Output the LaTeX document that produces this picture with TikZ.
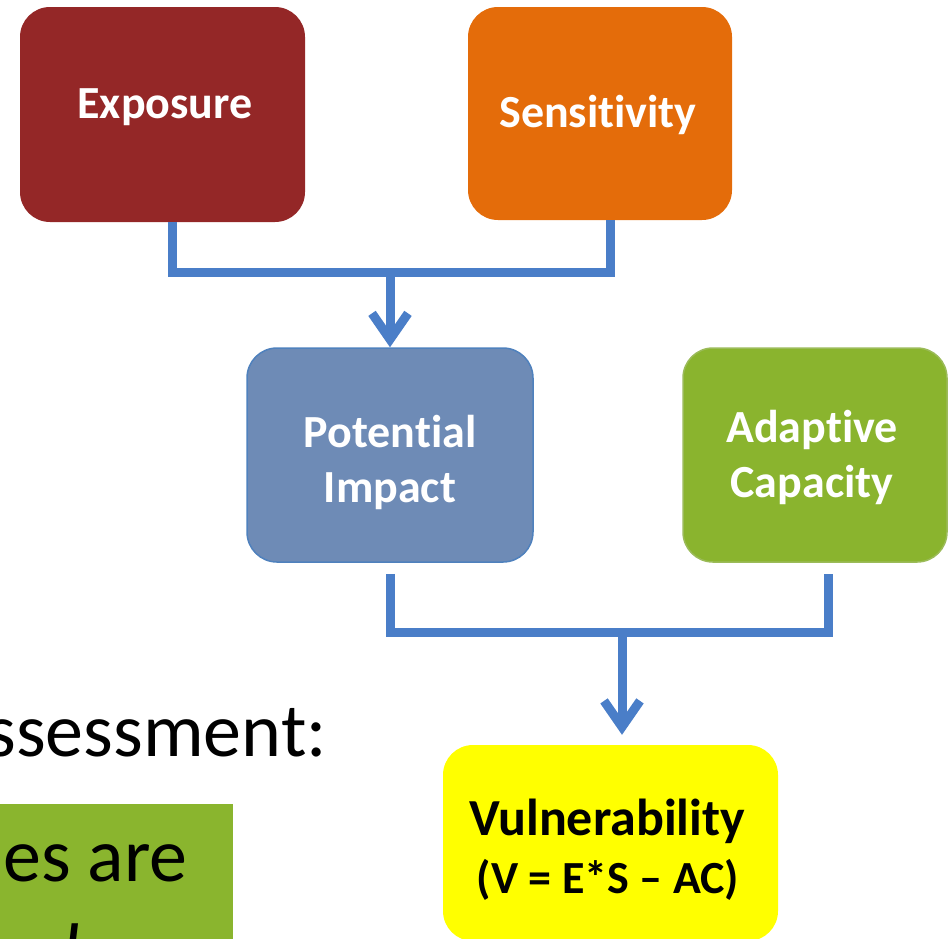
\documentclass[tikz,border=0pt]{standalone}
\usepackage{fontspec}
\setmainfont{Carlito}[Ligatures=NoCommon]
\usetikzlibrary{arrows.meta}
\definecolor{expored}{HTML}{942727}
\definecolor{sensorange}{HTML}{E46C0A}
\definecolor{potblue}{HTML}{6E8BB6}
\definecolor{potedge}{HTML}{4F81BD}
\definecolor{adapgreen}{HTML}{8AB42E}
\definecolor{adapedge}{HTML}{9BBB59}
\definecolor{vulyellow}{HTML}{FFFF00}
\definecolor{linkblue}{HTML}{4A7EC8}
\definecolor{notegreen}{HTML}{8AB52E}
\begin{document}
\begin{tikzpicture}[x=1pt,y=-1pt,
  box/.style={rounded corners=30pt,inner sep=0pt},
  boxtext/.style={anchor=base,align=center,text=white,inner sep=0pt,
    font=\fontsize{46}{55}\selectfont\bfseries},
  link/.style={draw=linkblue,line width=9pt},
  arrow/.style={link,-{Straight Barb[length=26pt,width=36pt]}},
  bigtext/.style={inner sep=0pt,font=\fontsize{76}{91}\selectfont}]
\path[use as bounding box] (0,0) rectangle (949,938);
\clip (0,0) rectangle (949,938);
% boxes
\node[box,fill=expored,minimum width=285pt,minimum height=215pt] (expo) at (162.5,114.5) {};
\node[boxtext] (expotxt) at (165,118) {Exposure};
\node[box,fill=sensorange,minimum width=264pt,minimum height=213pt] (sens) at (600,113.5) {};
\node[boxtext] (senstxt) at (598,127) {Sensitivity};
\node[box,fill=potblue,draw=potedge,line width=1.5pt,minimum width=286pt,minimum height=214pt] (pot) at (390,455) {};
\node[boxtext] (pottxt) at (390,502) {Potential\\Impact};
\node[box,fill=adapgreen,draw=adapedge,line width=1.5pt,minimum width=264pt,minimum height=214pt] (adap) at (815,455) {};
\node[boxtext] (adaptxt) at (812,497) {Adaptive\\Capacity};
\node[box,fill=vulyellow,minimum width=335pt,minimum height=196pt] (vul) at (610.5,843) {};
\node[boxtext,text=black,font=\fontsize{52}{52}\selectfont\bfseries] (vultxt) at (607,835) {Vulnerability};
\node[boxtext,text=black,font=\fontsize{46}{46}\selectfont\bfseries] (vulform) at (608,893) {(V = E*S – AC)};
% connectors
\coordinate (top) at (390,272);
\draw[link] ([xshift=10pt]expo.south) |- (top) -| ([xshift=10pt]sens.south);
\draw[arrow] (top) -- (pot.north);
\coordinate (mid) at (622,632);
\draw[link] ([yshift=-11pt]pot.south) |- (mid) -| ([xshift=13pt,yshift=-11pt]adap.south);
\draw[arrow,shorten >=10pt] (mid) -- (mid |- vul.north);
% left side of the slide
\node[bigtext,anchor=base east] (assess) at (327,756) {ssessment:};
\node[fill=notegreen,anchor=north east,minimum width=260pt,minimum height=150pt,inner sep=0pt] (notebox) at (233,804) {};
\node[bigtext,anchor=base west] (notetxt) at (3,881) {es are};
\node[bigtext,anchor=base west,font=\fontsize{76}{91}\selectfont\itshape] (notetxt2) at (62,976) {l};
\end{tikzpicture}
\end{document}
